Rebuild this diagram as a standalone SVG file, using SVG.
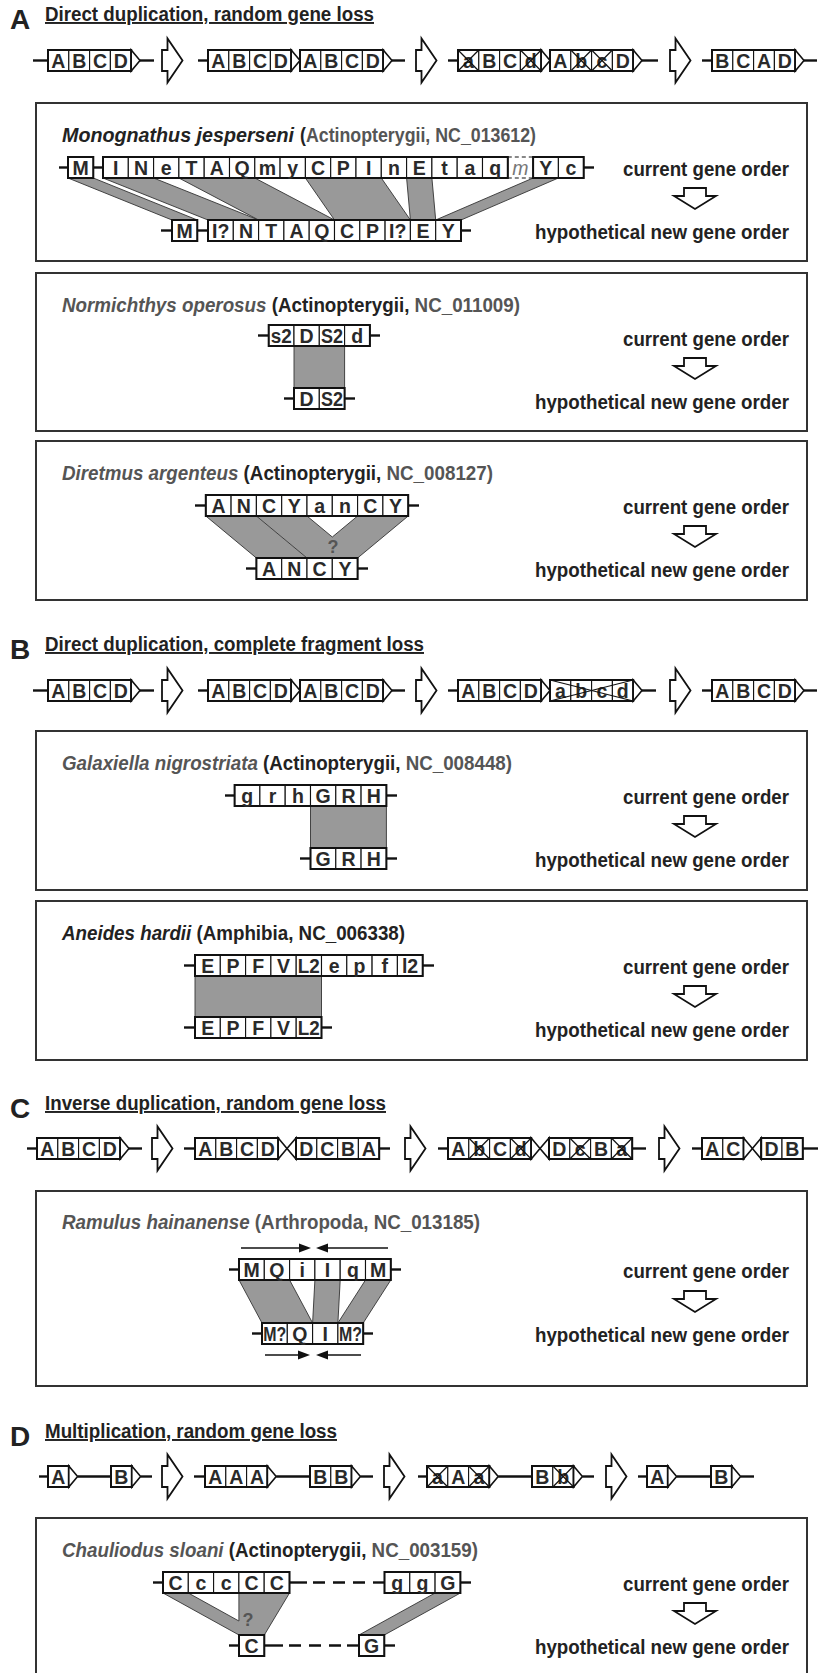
<svg xmlns="http://www.w3.org/2000/svg" xmlns:xlink="http://www.w3.org/1999/xlink" width="820" height="1673" viewBox="0 0 820 1673">
<defs>
<style>
.bg{fill:#fff}
.c{fill:#fff;stroke:#111;stroke-width:1.1}
.o{fill:none;stroke:#111;stroke-width:2}
.ln{stroke:#111;stroke-width:2.4;fill:none}
.dl{stroke:#111;stroke-width:2.4;fill:none;stroke-dasharray:12 8}
.tri{fill:#fff;stroke:#111;stroke-width:1.6;stroke-linejoin:miter}
.x{stroke:#111;stroke-width:1.2}
.g{font-family:"Liberation Sans",Arial,sans-serif;font-weight:bold;font-size:19.5px;fill:#2a2a2a;text-anchor:middle}
.gi{font-family:"Liberation Sans",Arial,sans-serif;font-style:italic;font-size:19.5px;fill:#777;text-anchor:middle}
.ba{fill:#fff;stroke:#111;stroke-width:1.8;stroke-linejoin:miter}
.box{fill:none;stroke:#333;stroke-width:2}
.lab{font-family:"Liberation Sans",Arial,sans-serif;font-weight:bold;font-size:28px;fill:#222}
.tt{font-family:"Liberation Sans",Arial,sans-serif;font-weight:bold;font-size:19.5px;fill:#222;text-decoration:underline}
.sp{font-family:"Liberation Sans",Arial,sans-serif;font-weight:bold;font-size:19.5px;fill:#222}
.gy{fill:#555}
.it{font-style:italic}
.ord{font-family:"Liberation Sans",Arial,sans-serif;font-weight:bold;font-size:19.5px;fill:#222;text-anchor:end}
.band{fill:#999;stroke:#333;stroke-width:0.9;stroke-linejoin:round}
.bf{fill:#999}
.be{stroke:#333;stroke-width:0.9}
.q{font-family:"Liberation Sans",Arial,sans-serif;font-weight:bold;font-size:18px;fill:#555;text-anchor:middle}
.ar{stroke:#111;stroke-width:1.5}
.ah{fill:#111}
</style>
<path id="barrow" class="ba" d="M0,-10.5 H5.5 V-22 L20.5,0 L5.5,22 V10.5 H0 Z"/>
<path id="darrow" class="ba" d="M-11,0 H11 V8 H21 L0,21 L-21,8 H-11 Z"/>
</defs>
<rect class="bg" x="0" y="0" width="820" height="1673"/>

<!-- ================= Section titles ================= -->
<g id="titles">
<text class="lab" x="10" y="29">A</text>
<text class="tt" x="45" y="21" textLength="329" lengthAdjust="spacingAndGlyphs">Direct duplication, random gene loss</text>
<text class="lab" x="10" y="659">B</text>
<text class="tt" x="45" y="651" textLength="379" lengthAdjust="spacingAndGlyphs">Direct duplication, complete fragment loss</text>
<text class="lab" x="10" y="1118">C</text>
<text class="tt" x="45" y="1110" textLength="341" lengthAdjust="spacingAndGlyphs">Inverse duplication, random gene loss</text>
<text class="lab" x="10" y="1446">D</text>
<text class="tt" x="45" y="1438" textLength="292" lengthAdjust="spacingAndGlyphs">Multiplication, random gene loss</text>
</g>

<!-- ================= Connectors (block arrows, homology bands) ================= -->
<g id="connectors">
<use xlink:href="#barrow" href="#barrow" transform="translate(162,60.5)"/>
<use xlink:href="#barrow" href="#barrow" transform="translate(416,60.5)"/>
<use xlink:href="#barrow" href="#barrow" transform="translate(670,60.5)"/>
<use xlink:href="#barrow" href="#barrow" transform="translate(162,690.5)"/>
<use xlink:href="#barrow" href="#barrow" transform="translate(416,690.5)"/>
<use xlink:href="#barrow" href="#barrow" transform="translate(670,690.5)"/>
<use xlink:href="#barrow" href="#barrow" transform="translate(152,1148.5)"/>
<use xlink:href="#barrow" href="#barrow" transform="translate(405,1148.5)"/>
<use xlink:href="#barrow" href="#barrow" transform="translate(659,1148.5)"/>
<use xlink:href="#barrow" href="#barrow" transform="translate(162,1476.5)"/>
<use xlink:href="#barrow" href="#barrow" transform="translate(384,1476.5)"/>
<use xlink:href="#barrow" href="#barrow" transform="translate(606,1476.5)"/>

<use xlink:href="#darrow" href="#darrow" transform="translate(695,188)"/>
<use xlink:href="#darrow" href="#darrow" transform="translate(695,358)"/>
<use xlink:href="#darrow" href="#darrow" transform="translate(695,526)"/>
<use xlink:href="#darrow" href="#darrow" transform="translate(695,816)"/>
<use xlink:href="#darrow" href="#darrow" transform="translate(695,986)"/>
<use xlink:href="#darrow" href="#darrow" transform="translate(695,1291)"/>
<use xlink:href="#darrow" href="#darrow" transform="translate(695,1603)"/>

<!-- Monognathus -->
<polygon class="band" points="68,178 93.3,178 197.3,220 172,220"/>
<polygon class="band" points="103,178 153.6,178 258.6,220 208,220"/>
<polygon class="band" points="178.9,178 254.8,178 334.5,220 258.6,220"/>
<polygon class="band" points="305.4,178 381.3,178 410.4,220 334.5,220"/>
<polygon class="band" points="406.6,178 431.9,178 435.7,220 410.4,220"/>
<polygon class="band" points="533.1,178 558.4,178 461,220 435.7,220"/>
<!-- Normichthys -->
<polygon class="band" points="294,346 344.6,346 344.6,388 294,388"/>
<!-- Diretmus -->
<polygon class="bf" points="205.8,516 256.4,516 307,558 256.4,558"/>
<polygon class="bf" points="256.4,516 307,516 357.6,558 307,558"/>
<polygon class="bf" points="357.6,516 408.2,516 357.6,558 307,558"/>
<line class="be" x1="205.8" y1="516" x2="256.4" y2="558"/>
<line class="be" x1="256.4" y1="516" x2="307" y2="558"/>
<line class="be" x1="307" y1="516" x2="332.3" y2="537"/>
<line class="be" x1="357.6" y1="516" x2="332.3" y2="537"/>
<line class="be" x1="408.2" y1="516" x2="357.6" y2="558"/>
<!-- Galaxiella -->
<polygon class="band" points="310.5,806 386.4,806 386.4,848 310.5,848"/>
<!-- Aneides -->
<polygon class="band" points="195,976 321.5,976 321.5,1017 195,1017"/>
<!-- Ramulus -->
<polygon class="band" points="239,1280 289.6,1280 312.6,1323 262,1323"/>
<polygon class="band" points="314.9,1280 340.2,1280 337.9,1323 312.6,1323"/>
<polygon class="band" points="365.5,1280 390.8,1280 363.2,1323 337.9,1323"/>
<!-- Chauliodus -->
<polygon class="bf" points="163,1593 188.3,1593 264.3,1635 239,1635"/>
<polygon class="bf" points="238.9,1593 289.5,1593 264.3,1635 239,1635"/>
<line class="be" x1="163" y1="1593" x2="239" y2="1635"/>
<line class="be" x1="188.3" y1="1593" x2="238.9" y2="1621"/>
<line class="be" x1="238.9" y1="1593" x2="238.9" y2="1621"/>
<line class="be" x1="289.5" y1="1593" x2="264.3" y2="1635"/>
<polygon class="band" points="435.1,1593 460.4,1593 384.3,1635 359,1635"/>
</g>

<!-- ================= Row A ================= -->
<g id="rowA">
<g id="A-g1">
<line class="ln" x1="33" y1="60.5" x2="48" y2="60.5"/>
<line class="ln" x1="140" y1="60.5" x2="154" y2="60.5"/>
<rect class="c" x="48" y="50" width="20.8" height="21"/><rect class="c" x="68.8" y="50" width="20.8" height="21"/><rect class="c" x="89.6" y="50" width="20.8" height="21"/><rect class="c" x="110.4" y="50" width="20.8" height="21"/>
<rect class="o" x="48" y="50" width="83.2" height="21"/>
<polygon class="tri" points="131.2,50 140,60.5 131.2,71"/>
<text class="g" x="58.4" y="67.5">A</text><text class="g" x="79.2" y="67.5">B</text><text class="g" x="100" y="67.5">C</text><text class="g" x="120.8" y="67.5">D</text>
</g>
<g id="A-g2">
<line class="ln" x1="198" y1="60.5" x2="208" y2="60.5"/>
<line class="ln" x1="392" y1="60.5" x2="405" y2="60.5"/>
<rect class="c" x="208" y="50" width="20.8" height="21"/><rect class="c" x="228.8" y="50" width="20.8" height="21"/><rect class="c" x="249.6" y="50" width="20.8" height="21"/><rect class="c" x="270.4" y="50" width="20.8" height="21"/>
<rect class="o" x="208" y="50" width="83.2" height="21"/>
<polygon class="tri" points="291.2,50 300,60.5 291.2,71"/>
<rect class="c" x="300" y="50" width="20.8" height="21"/><rect class="c" x="320.8" y="50" width="20.8" height="21"/><rect class="c" x="341.6" y="50" width="20.8" height="21"/><rect class="c" x="362.4" y="50" width="20.8" height="21"/>
<rect class="o" x="300" y="50" width="83.2" height="21"/>
<polygon class="tri" points="383.2,50 392,60.5 383.2,71"/>
<text class="g" x="218.4" y="67.5">A</text><text class="g" x="239.2" y="67.5">B</text><text class="g" x="260" y="67.5">C</text><text class="g" x="280.8" y="67.5">D</text>
<text class="g" x="310.4" y="67.5">A</text><text class="g" x="331.2" y="67.5">B</text><text class="g" x="352" y="67.5">C</text><text class="g" x="372.8" y="67.5">D</text>
</g>
<g id="A-g3">
<line class="ln" x1="448" y1="60.5" x2="458" y2="60.5"/>
<line class="ln" x1="642" y1="60.5" x2="658" y2="60.5"/>
<rect class="c" x="458" y="50" width="20.8" height="21"/><rect class="c" x="478.8" y="50" width="20.8" height="21"/><rect class="c" x="499.6" y="50" width="20.8" height="21"/><rect class="c" x="520.4" y="50" width="20.8" height="21"/>
<rect class="o" x="458" y="50" width="83.2" height="21"/>
<polygon class="tri" points="541.2,50 550,60.5 541.2,71"/>
<rect class="c" x="550" y="50" width="20.8" height="21"/><rect class="c" x="570.8" y="50" width="20.8" height="21"/><rect class="c" x="591.6" y="50" width="20.8" height="21"/><rect class="c" x="612.4" y="50" width="20.8" height="21"/>
<rect class="o" x="550" y="50" width="83.2" height="21"/>
<polygon class="tri" points="633.2,50 642,60.5 633.2,71"/>
<text class="g" x="468.4" y="67.5">a</text><text class="g" x="489.2" y="67.5">B</text><text class="g" x="510" y="67.5">C</text><text class="g" x="530.8" y="67.5">d</text>
<text class="g" x="560.4" y="67.5">A</text><text class="g" x="581.2" y="67.5">b</text><text class="g" x="602" y="67.5">c</text><text class="g" x="622.8" y="67.5">D</text>
<line class="x" x1="458" y1="50" x2="478.8" y2="71"/><line class="x" x1="478.8" y1="50" x2="458" y2="71"/>
<line class="x" x1="520.4" y1="50" x2="541.2" y2="71"/><line class="x" x1="541.2" y1="50" x2="520.4" y2="71"/>
<line class="x" x1="570.8" y1="50" x2="591.6" y2="71"/><line class="x" x1="591.6" y1="50" x2="570.8" y2="71"/>
<line class="x" x1="591.6" y1="50" x2="612.4" y2="71"/><line class="x" x1="612.4" y1="50" x2="591.6" y2="71"/>
</g>
<g id="A-g4">
<line class="ln" x1="702" y1="60.5" x2="712" y2="60.5"/>
<line class="ln" x1="804" y1="60.5" x2="817" y2="60.5"/>
<rect class="c" x="712" y="50" width="20.8" height="21"/><rect class="c" x="732.8" y="50" width="20.8" height="21"/><rect class="c" x="753.6" y="50" width="20.8" height="21"/><rect class="c" x="774.4" y="50" width="20.8" height="21"/>
<rect class="o" x="712" y="50" width="83.2" height="21"/>
<polygon class="tri" points="795.2,50 804,60.5 795.2,71"/>
<text class="g" x="722.4" y="67.5">B</text><text class="g" x="743.2" y="67.5">C</text><text class="g" x="764" y="67.5">A</text><text class="g" x="784.8" y="67.5">D</text>
</g>
</g>

<!-- Box A1 Monognathus -->
<g id="boxA1">
<rect class="box" x="36" y="103" width="771" height="158"/>
<text class="sp" x="62" y="142"><tspan class="it" textLength="232" lengthAdjust="spacingAndGlyphs">Monognathus jesperseni</tspan><tspan x="300" textLength="236" lengthAdjust="spacingAndGlyphs">(<tspan class="gy">Actinopterygii, NC_013612)</tspan></tspan></text>
<text class="ord" x="789" y="176" textLength="166" lengthAdjust="spacingAndGlyphs">current gene order</text>
<text class="ord" x="789" y="239" textLength="254" lengthAdjust="spacingAndGlyphs">hypothetical new gene order</text>
<line class="ln" x1="59" y1="167.5" x2="68" y2="167.5"/>
<line class="ln" x1="93.3" y1="167.5" x2="103" y2="167.5"/>
<line class="ln" x1="583.7" y1="167.5" x2="594" y2="167.5"/>
<rect class="c" x="68" y="157" width="25.3" height="21"/>
<rect class="o" x="68" y="157" width="25.3" height="21"/>
<rect class="c" x="103" y="157" width="25.3" height="21"/><rect class="c" x="128.3" y="157" width="25.3" height="21"/><rect class="c" x="153.6" y="157" width="25.3" height="21"/><rect class="c" x="178.9" y="157" width="25.3" height="21"/><rect class="c" x="204.2" y="157" width="25.3" height="21"/><rect class="c" x="229.5" y="157" width="25.3" height="21"/><rect class="c" x="254.8" y="157" width="25.3" height="21"/><rect class="c" x="280.1" y="157" width="25.3" height="21"/><rect class="c" x="305.4" y="157" width="25.3" height="21"/><rect class="c" x="330.7" y="157" width="25.3" height="21"/><rect class="c" x="356" y="157" width="25.3" height="21"/><rect class="c" x="381.3" y="157" width="25.3" height="21"/><rect class="c" x="406.6" y="157" width="25.3" height="21"/><rect class="c" x="431.9" y="157" width="25.3" height="21"/><rect class="c" x="457.2" y="157" width="25.3" height="21"/><rect class="c" x="482.5" y="157" width="25.3" height="21"/>
<rect class="c" x="533.1" y="157" width="25.3" height="21"/><rect class="c" x="558.4" y="157" width="25.3" height="21"/>
<rect class="o" x="103" y="157" width="404.8" height="21"/>
<rect class="o" x="533.1" y="157" width="50.6" height="21"/>
<line class="x" x1="507.8" y1="157" x2="533.1" y2="157" stroke-dasharray="4 3"/>
<line class="x" x1="507.8" y1="178" x2="533.1" y2="178" stroke-dasharray="4 3"/>
<text class="g" x="80.65" y="174.5">M</text>
<text class="g" x="115.65" y="174.5">I</text><text class="g" x="140.95" y="174.5">N</text><text class="g" x="166.25" y="174.5">e</text><text class="g" x="191.55" y="174.5">T</text><text class="g" x="216.85" y="174.5">A</text><text class="g" x="242.15" y="174.5">Q</text><text class="g" x="267.45" y="174.5">m</text><text class="g" x="292.75" y="174.5">y</text><text class="g" x="318.05" y="174.5">C</text><text class="g" x="343.35" y="174.5">P</text><text class="g" x="368.65" y="174.5">I</text><text class="g" x="393.95" y="174.5">n</text><text class="g" x="419.25" y="174.5">E</text><text class="g" x="444.55" y="174.5">t</text><text class="g" x="469.85" y="174.5">a</text><text class="g" x="495.15" y="174.5">q</text><text class="gi" x="520.45" y="174.5">m</text><text class="g" x="545.75" y="174.5">Y</text><text class="g" x="571.05" y="174.5">c</text>
<line class="ln" x1="161" y1="230.5" x2="172" y2="230.5"/>
<line class="ln" x1="197.3" y1="230.5" x2="208" y2="230.5"/>
<line class="ln" x1="461" y1="230.5" x2="471" y2="230.5"/>
<rect class="c" x="172" y="220" width="25.3" height="21"/>
<rect class="o" x="172" y="220" width="25.3" height="21"/>
<rect class="c" x="208" y="220" width="25.3" height="21"/><rect class="c" x="233.3" y="220" width="25.3" height="21"/><rect class="c" x="258.6" y="220" width="25.3" height="21"/><rect class="c" x="283.9" y="220" width="25.3" height="21"/><rect class="c" x="309.2" y="220" width="25.3" height="21"/><rect class="c" x="334.5" y="220" width="25.3" height="21"/><rect class="c" x="359.8" y="220" width="25.3" height="21"/><rect class="c" x="385.1" y="220" width="25.3" height="21"/><rect class="c" x="410.4" y="220" width="25.3" height="21"/><rect class="c" x="435.7" y="220" width="25.3" height="21"/>
<rect class="o" x="208" y="220" width="253" height="21"/>
<text class="g" x="184.65" y="237.5">M</text>
<text class="g" x="220.65" y="237.5">I?</text><text class="g" x="245.95" y="237.5">N</text><text class="g" x="271.25" y="237.5">T</text><text class="g" x="296.55" y="237.5">A</text><text class="g" x="321.85" y="237.5">Q</text><text class="g" x="347.15" y="237.5">C</text><text class="g" x="372.45" y="237.5">P</text><text class="g" x="397.75" y="237.5">I?</text><text class="g" x="423.05" y="237.5">E</text><text class="g" x="448.35" y="237.5">Y</text>
</g>

<!-- Box A2 Normichthys -->
<g id="boxA2">
<rect class="box" x="36" y="273" width="771" height="158"/>
<text class="sp" x="62" y="312" textLength="458" lengthAdjust="spacingAndGlyphs"><tspan class="it gy">Normichthys operosus</tspan> (Actinopterygii, <tspan class="gy">NC_011009)</tspan></text>
<text class="ord" x="789" y="346" textLength="166" lengthAdjust="spacingAndGlyphs">current gene order</text>
<text class="ord" x="789" y="409" textLength="254" lengthAdjust="spacingAndGlyphs">hypothetical new gene order</text>
<line class="ln" x1="258" y1="335.5" x2="268.7" y2="335.5"/>
<line class="ln" x1="369.9" y1="335.5" x2="380" y2="335.5"/>
<rect class="c" x="268.7" y="325" width="25.3" height="21"/><rect class="c" x="294" y="325" width="25.3" height="21"/><rect class="c" x="319.3" y="325" width="25.3" height="21"/><rect class="c" x="344.6" y="325" width="25.3" height="21"/>
<rect class="o" x="268.7" y="325" width="101.2" height="21"/>
<text class="g" x="281.35" y="342.5" textLength="21" lengthAdjust="spacingAndGlyphs">s2</text><text class="g" x="306.65" y="342.5">D</text><text class="g" x="331.95" y="342.5" textLength="22" lengthAdjust="spacingAndGlyphs">S2</text><text class="g" x="357.25" y="342.5">d</text>
<line class="ln" x1="284" y1="398.5" x2="294" y2="398.5"/>
<line class="ln" x1="344.6" y1="398.5" x2="355" y2="398.5"/>
<rect class="c" x="294" y="388" width="25.3" height="21"/><rect class="c" x="319.3" y="388" width="25.3" height="21"/>
<rect class="o" x="294" y="388" width="50.6" height="21"/>
<text class="g" x="306.65" y="405.5">D</text><text class="g" x="331.95" y="405.5" textLength="22" lengthAdjust="spacingAndGlyphs">S2</text>
</g>

<!-- Box A3 Diretmus -->
<g id="boxA3">
<rect class="box" x="36" y="441" width="771" height="159"/>
<text class="sp" x="62" y="480" textLength="431" lengthAdjust="spacingAndGlyphs"><tspan class="it gy">Diretmus argenteus</tspan> (Actinopterygii, <tspan class="gy">NC_008127)</tspan></text>
<text class="ord" x="789" y="514" textLength="166" lengthAdjust="spacingAndGlyphs">current gene order</text>
<text class="ord" x="789" y="577" textLength="254" lengthAdjust="spacingAndGlyphs">hypothetical new gene order</text>
<line class="ln" x1="195" y1="505.5" x2="205.8" y2="505.5"/>
<line class="ln" x1="408.2" y1="505.5" x2="419" y2="505.5"/>
<rect class="c" x="205.8" y="495" width="25.3" height="21"/><rect class="c" x="231.1" y="495" width="25.3" height="21"/><rect class="c" x="256.4" y="495" width="25.3" height="21"/><rect class="c" x="281.7" y="495" width="25.3" height="21"/><rect class="c" x="307" y="495" width="25.3" height="21"/><rect class="c" x="332.3" y="495" width="25.3" height="21"/><rect class="c" x="357.6" y="495" width="25.3" height="21"/><rect class="c" x="382.9" y="495" width="25.3" height="21"/>
<rect class="o" x="205.8" y="495" width="202.4" height="21"/>
<text class="g" x="218.45" y="512.5">A</text><text class="g" x="243.75" y="512.5">N</text><text class="g" x="269.05" y="512.5">C</text><text class="g" x="294.35" y="512.5">Y</text><text class="g" x="319.65" y="512.5">a</text><text class="g" x="344.95" y="512.5">n</text><text class="g" x="370.25" y="512.5">C</text><text class="g" x="395.55" y="512.5">Y</text>
<text class="q" x="333" y="553">?</text>
<line class="ln" x1="246" y1="568.5" x2="256.4" y2="568.5"/>
<line class="ln" x1="357.6" y1="568.5" x2="368" y2="568.5"/>
<rect class="c" x="256.4" y="558" width="25.3" height="21"/><rect class="c" x="281.7" y="558" width="25.3" height="21"/><rect class="c" x="307" y="558" width="25.3" height="21"/><rect class="c" x="332.3" y="558" width="25.3" height="21"/>
<rect class="o" x="256.4" y="558" width="101.2" height="21"/>
<text class="g" x="269.05" y="575.5">A</text><text class="g" x="294.35" y="575.5">N</text><text class="g" x="319.65" y="575.5">C</text><text class="g" x="344.95" y="575.5">Y</text>
</g>

<!-- ================= Row B ================= -->
<g id="rowB">
<g id="B-g1">
<line class="ln" x1="33" y1="690.5" x2="48" y2="690.5"/>
<line class="ln" x1="140" y1="690.5" x2="154" y2="690.5"/>
<rect class="c" x="48" y="680" width="20.8" height="21"/><rect class="c" x="68.8" y="680" width="20.8" height="21"/><rect class="c" x="89.6" y="680" width="20.8" height="21"/><rect class="c" x="110.4" y="680" width="20.8" height="21"/>
<rect class="o" x="48" y="680" width="83.2" height="21"/>
<polygon class="tri" points="131.2,680 140,690.5 131.2,701"/>
<text class="g" x="58.4" y="697.5">A</text><text class="g" x="79.2" y="697.5">B</text><text class="g" x="100" y="697.5">C</text><text class="g" x="120.8" y="697.5">D</text>
</g>
<g id="B-g2">
<line class="ln" x1="198" y1="690.5" x2="208" y2="690.5"/>
<line class="ln" x1="392" y1="690.5" x2="405" y2="690.5"/>
<rect class="c" x="208" y="680" width="20.8" height="21"/><rect class="c" x="228.8" y="680" width="20.8" height="21"/><rect class="c" x="249.6" y="680" width="20.8" height="21"/><rect class="c" x="270.4" y="680" width="20.8" height="21"/>
<rect class="o" x="208" y="680" width="83.2" height="21"/>
<polygon class="tri" points="291.2,680 300,690.5 291.2,701"/>
<rect class="c" x="300" y="680" width="20.8" height="21"/><rect class="c" x="320.8" y="680" width="20.8" height="21"/><rect class="c" x="341.6" y="680" width="20.8" height="21"/><rect class="c" x="362.4" y="680" width="20.8" height="21"/>
<rect class="o" x="300" y="680" width="83.2" height="21"/>
<polygon class="tri" points="383.2,680 392,690.5 383.2,701"/>
<text class="g" x="218.4" y="697.5">A</text><text class="g" x="239.2" y="697.5">B</text><text class="g" x="260" y="697.5">C</text><text class="g" x="280.8" y="697.5">D</text>
<text class="g" x="310.4" y="697.5">A</text><text class="g" x="331.2" y="697.5">B</text><text class="g" x="352" y="697.5">C</text><text class="g" x="372.8" y="697.5">D</text>
</g>
<g id="B-g3">
<line class="ln" x1="448" y1="690.5" x2="458" y2="690.5"/>
<line class="ln" x1="642" y1="690.5" x2="656" y2="690.5"/>
<rect class="c" x="458" y="680" width="20.8" height="21"/><rect class="c" x="478.8" y="680" width="20.8" height="21"/><rect class="c" x="499.6" y="680" width="20.8" height="21"/><rect class="c" x="520.4" y="680" width="20.8" height="21"/>
<rect class="o" x="458" y="680" width="83.2" height="21"/>
<polygon class="tri" points="541.2,680 550,690.5 541.2,701"/>
<rect class="c" x="550" y="680" width="20.8" height="21"/><rect class="c" x="570.8" y="680" width="20.8" height="21"/><rect class="c" x="591.6" y="680" width="20.8" height="21"/><rect class="c" x="612.4" y="680" width="20.8" height="21"/>
<rect class="o" x="550" y="680" width="83.2" height="21"/>
<polygon class="tri" points="633.2,680 642,690.5 633.2,701"/>
<text class="g" x="468.4" y="697.5">A</text><text class="g" x="489.2" y="697.5">B</text><text class="g" x="510" y="697.5">C</text><text class="g" x="530.8" y="697.5">D</text>
<text class="g" x="560.4" y="697.5">a</text><text class="g" x="581.2" y="697.5">b</text><text class="g" x="602" y="697.5">c</text><text class="g" x="622.8" y="697.5">d</text>
<line class="x" x1="550" y1="680" x2="633.2" y2="701"/><line class="x" x1="633.2" y1="680" x2="550" y2="701"/>
</g>
<g id="B-g4">
<line class="ln" x1="702" y1="690.5" x2="712" y2="690.5"/>
<line class="ln" x1="804" y1="690.5" x2="817" y2="690.5"/>
<rect class="c" x="712" y="680" width="20.8" height="21"/><rect class="c" x="732.8" y="680" width="20.8" height="21"/><rect class="c" x="753.6" y="680" width="20.8" height="21"/><rect class="c" x="774.4" y="680" width="20.8" height="21"/>
<rect class="o" x="712" y="680" width="83.2" height="21"/>
<polygon class="tri" points="795.2,680 804,690.5 795.2,701"/>
<text class="g" x="722.4" y="697.5">A</text><text class="g" x="743.2" y="697.5">B</text><text class="g" x="764" y="697.5">C</text><text class="g" x="784.8" y="697.5">D</text>
</g>
</g>

<!-- Box B1 Galaxiella -->
<g id="boxB1">
<rect class="box" x="36" y="731" width="771" height="159"/>
<text class="sp" x="62" y="770" textLength="450" lengthAdjust="spacingAndGlyphs"><tspan class="it gy">Galaxiella nigrostriata</tspan> (Actinopterygii, <tspan class="gy">NC_008448)</tspan></text>
<text class="ord" x="789" y="804" textLength="166" lengthAdjust="spacingAndGlyphs">current gene order</text>
<text class="ord" x="789" y="867" textLength="254" lengthAdjust="spacingAndGlyphs">hypothetical new gene order</text>
<line class="ln" x1="225" y1="795.5" x2="234.6" y2="795.5"/>
<line class="ln" x1="386.4" y1="795.5" x2="397" y2="795.5"/>
<rect class="c" x="234.6" y="785" width="25.3" height="21"/><rect class="c" x="259.9" y="785" width="25.3" height="21"/><rect class="c" x="285.2" y="785" width="25.3" height="21"/><rect class="c" x="310.5" y="785" width="25.3" height="21"/><rect class="c" x="335.8" y="785" width="25.3" height="21"/><rect class="c" x="361.1" y="785" width="25.3" height="21"/>
<rect class="o" x="234.6" y="785" width="151.8" height="21"/>
<text class="g" x="247.25" y="802.5">g</text><text class="g" x="272.55" y="802.5">r</text><text class="g" x="297.85" y="802.5">h</text><text class="g" x="323.15" y="802.5">G</text><text class="g" x="348.45" y="802.5">R</text><text class="g" x="373.75" y="802.5">H</text>
<line class="ln" x1="300" y1="858.5" x2="310.5" y2="858.5"/>
<line class="ln" x1="386.4" y1="858.5" x2="397" y2="858.5"/>
<rect class="c" x="310.5" y="848" width="25.3" height="21"/><rect class="c" x="335.8" y="848" width="25.3" height="21"/><rect class="c" x="361.1" y="848" width="25.3" height="21"/>
<rect class="o" x="310.5" y="848" width="75.9" height="21"/>
<text class="g" x="323.15" y="865.5">G</text><text class="g" x="348.45" y="865.5">R</text><text class="g" x="373.75" y="865.5">H</text>
</g>

<!-- Box B2 Aneides -->
<g id="boxB2">
<rect class="box" x="36" y="901" width="771" height="159"/>
<text class="sp" x="62" y="940" textLength="343" lengthAdjust="spacingAndGlyphs"><tspan class="it">Aneides hardii</tspan> (Amphibia, NC_006338)</text>
<text class="ord" x="789" y="974" textLength="166" lengthAdjust="spacingAndGlyphs">current gene order</text>
<text class="ord" x="789" y="1037" textLength="254" lengthAdjust="spacingAndGlyphs">hypothetical new gene order</text>
<line class="ln" x1="184" y1="965.5" x2="195" y2="965.5"/>
<line class="ln" x1="422.7" y1="965.5" x2="434" y2="965.5"/>
<rect class="c" x="195" y="955" width="25.3" height="21"/><rect class="c" x="220.3" y="955" width="25.3" height="21"/><rect class="c" x="245.6" y="955" width="25.3" height="21"/><rect class="c" x="270.9" y="955" width="25.3" height="21"/><rect class="c" x="296.2" y="955" width="25.3" height="21"/><rect class="c" x="321.5" y="955" width="25.3" height="21"/><rect class="c" x="346.8" y="955" width="25.3" height="21"/><rect class="c" x="372.1" y="955" width="25.3" height="21"/><rect class="c" x="397.4" y="955" width="25.3" height="21"/>
<rect class="o" x="195" y="955" width="227.7" height="21"/>
<text class="g" x="207.65" y="972.5">E</text><text class="g" x="232.95" y="972.5">P</text><text class="g" x="258.25" y="972.5">F</text><text class="g" x="283.55" y="972.5">V</text><text class="g" x="308.85" y="972.5" textLength="22" lengthAdjust="spacingAndGlyphs">L2</text><text class="g" x="334.15" y="972.5">e</text><text class="g" x="359.45" y="972.5">p</text><text class="g" x="384.75" y="972.5">f</text><text class="g" x="410.05" y="972.5">l2</text>
<line class="ln" x1="184" y1="1027.5" x2="195" y2="1027.5"/>
<line class="ln" x1="321.5" y1="1027.5" x2="332" y2="1027.5"/>
<rect class="c" x="195" y="1017" width="25.3" height="21"/><rect class="c" x="220.3" y="1017" width="25.3" height="21"/><rect class="c" x="245.6" y="1017" width="25.3" height="21"/><rect class="c" x="270.9" y="1017" width="25.3" height="21"/><rect class="c" x="296.2" y="1017" width="25.3" height="21"/>
<rect class="o" x="195" y="1017" width="126.5" height="21"/>
<text class="g" x="207.65" y="1034.5">E</text><text class="g" x="232.95" y="1034.5">P</text><text class="g" x="258.25" y="1034.5">F</text><text class="g" x="283.55" y="1034.5">V</text><text class="g" x="308.85" y="1034.5" textLength="22" lengthAdjust="spacingAndGlyphs">L2</text>
</g>

<!-- ================= Row C ================= -->
<g id="rowC">
<g id="C-g1">
<line class="ln" x1="27" y1="1148.5" x2="37" y2="1148.5"/>
<line class="ln" x1="129" y1="1148.5" x2="142" y2="1148.5"/>
<rect class="c" x="37" y="1138" width="20.8" height="21"/><rect class="c" x="57.8" y="1138" width="20.8" height="21"/><rect class="c" x="78.6" y="1138" width="20.8" height="21"/><rect class="c" x="99.4" y="1138" width="20.8" height="21"/>
<rect class="o" x="37" y="1138" width="83.2" height="21"/>
<polygon class="tri" points="120.2,1138 129,1148.5 120.2,1159"/>
<text class="g" x="47.4" y="1155.5">A</text><text class="g" x="68.2" y="1155.5">B</text><text class="g" x="89" y="1155.5">C</text><text class="g" x="109.8" y="1155.5">D</text>
</g>
<g id="C-g2">
<line class="ln" x1="184" y1="1148.5" x2="195" y2="1148.5"/>
<line class="ln" x1="379.2" y1="1148.5" x2="390" y2="1148.5"/>
<rect class="c" x="195" y="1138" width="20.8" height="21"/><rect class="c" x="215.8" y="1138" width="20.8" height="21"/><rect class="c" x="236.6" y="1138" width="20.8" height="21"/><rect class="c" x="257.4" y="1138" width="20.8" height="21"/>
<rect class="o" x="195" y="1138" width="83.2" height="21"/>
<polygon class="tri" points="278.2,1138 287,1148.5 278.2,1159"/>
<polygon class="tri" points="296,1138 287,1148.5 296,1159"/>
<rect class="c" x="296" y="1138" width="20.8" height="21"/><rect class="c" x="316.8" y="1138" width="20.8" height="21"/><rect class="c" x="337.6" y="1138" width="20.8" height="21"/><rect class="c" x="358.4" y="1138" width="20.8" height="21"/>
<rect class="o" x="296" y="1138" width="83.2" height="21"/>
<text class="g" x="205.4" y="1155.5">A</text><text class="g" x="226.2" y="1155.5">B</text><text class="g" x="247" y="1155.5">C</text><text class="g" x="267.8" y="1155.5">D</text>
<text class="g" x="306.4" y="1155.5">D</text><text class="g" x="327.2" y="1155.5">C</text><text class="g" x="348" y="1155.5">B</text><text class="g" x="368.8" y="1155.5">A</text>
</g>
<g id="C-g3">
<line class="ln" x1="438" y1="1148.5" x2="448" y2="1148.5"/>
<line class="ln" x1="632.2" y1="1148.5" x2="646" y2="1148.5"/>
<rect class="c" x="448" y="1138" width="20.8" height="21"/><rect class="c" x="468.8" y="1138" width="20.8" height="21"/><rect class="c" x="489.6" y="1138" width="20.8" height="21"/><rect class="c" x="510.4" y="1138" width="20.8" height="21"/>
<rect class="o" x="448" y="1138" width="83.2" height="21"/>
<polygon class="tri" points="531.2,1138 540,1148.5 531.2,1159"/>
<polygon class="tri" points="549,1138 540,1148.5 549,1159"/>
<rect class="c" x="549" y="1138" width="20.8" height="21"/><rect class="c" x="569.8" y="1138" width="20.8" height="21"/><rect class="c" x="590.6" y="1138" width="20.8" height="21"/><rect class="c" x="611.4" y="1138" width="20.8" height="21"/>
<rect class="o" x="549" y="1138" width="83.2" height="21"/>
<text class="g" x="458.4" y="1155.5">A</text><text class="g" x="479.2" y="1155.5">b</text><text class="g" x="500" y="1155.5">C</text><text class="g" x="520.8" y="1155.5">d</text>
<text class="g" x="559.4" y="1155.5">D</text><text class="g" x="580.2" y="1155.5">c</text><text class="g" x="601" y="1155.5">B</text><text class="g" x="621.8" y="1155.5">a</text>
<line class="x" x1="468.8" y1="1138" x2="489.6" y2="1159"/><line class="x" x1="489.6" y1="1138" x2="468.8" y2="1159"/>
<line class="x" x1="510.4" y1="1138" x2="531.2" y2="1159"/><line class="x" x1="531.2" y1="1138" x2="510.4" y2="1159"/>
<line class="x" x1="569.8" y1="1138" x2="590.6" y2="1159"/><line class="x" x1="590.6" y1="1138" x2="569.8" y2="1159"/>
<line class="x" x1="611.4" y1="1138" x2="632.2" y2="1159"/><line class="x" x1="632.2" y1="1138" x2="611.4" y2="1159"/>
</g>
<g id="C-g4">
<line class="ln" x1="692" y1="1148.5" x2="702" y2="1148.5"/>
<line class="ln" x1="802.8" y1="1148.5" x2="818" y2="1148.5"/>
<rect class="c" x="702" y="1138" width="20.8" height="21"/><rect class="c" x="722.8" y="1138" width="20.8" height="21"/>
<rect class="o" x="702" y="1138" width="41.6" height="21"/>
<polygon class="tri" points="743.6,1138 752.4,1148.5 743.6,1159"/>
<polygon class="tri" points="761.2,1138 752.4,1148.5 761.2,1159"/>
<rect class="c" x="761.2" y="1138" width="20.8" height="21"/><rect class="c" x="782" y="1138" width="20.8" height="21"/>
<rect class="o" x="761.2" y="1138" width="41.6" height="21"/>
<text class="g" x="712.4" y="1155.5">A</text><text class="g" x="733.2" y="1155.5">C</text>
<text class="g" x="771.6" y="1155.5">D</text><text class="g" x="792.4" y="1155.5">B</text>
</g>
</g>

<!-- Box C Ramulus -->
<g id="boxC">
<rect class="box" x="36" y="1191" width="771" height="195"/>
<text class="sp" x="62" y="1229" textLength="418" lengthAdjust="spacingAndGlyphs"><tspan class="it gy">Ramulus hainanense</tspan> <tspan class="gy">(Arthropoda, NC_013185)</tspan></text>
<text class="ord" x="789" y="1278" textLength="166" lengthAdjust="spacingAndGlyphs">current gene order</text>
<text class="ord" x="789" y="1342" textLength="254" lengthAdjust="spacingAndGlyphs">hypothetical new gene order</text>
<line class="ar" x1="241" y1="1248" x2="302" y2="1248"/><polygon class="ah" points="311,1248 299,1243.5 299,1252.5"/>
<line class="ar" x1="388" y1="1248" x2="326" y2="1248"/><polygon class="ah" points="316,1248 328,1243.5 328,1252.5"/>
<line class="ln" x1="229" y1="1269.5" x2="239" y2="1269.5"/>
<line class="ln" x1="390.8" y1="1269.5" x2="401" y2="1269.5"/>
<rect class="c" x="239" y="1259" width="25.3" height="21"/><rect class="c" x="264.3" y="1259" width="25.3" height="21"/><rect class="c" x="289.6" y="1259" width="25.3" height="21"/><rect class="c" x="314.9" y="1259" width="25.3" height="21"/><rect class="c" x="340.2" y="1259" width="25.3" height="21"/><rect class="c" x="365.5" y="1259" width="25.3" height="21"/>
<rect class="o" x="239" y="1259" width="151.8" height="21"/>
<text class="g" x="251.65" y="1276.5">M</text><text class="g" x="276.95" y="1276.5">Q</text><text class="g" x="302.25" y="1276.5">i</text><text class="g" x="327.55" y="1276.5">I</text><text class="g" x="352.85" y="1276.5">q</text><text class="g" x="378.15" y="1276.5">M</text>
<line class="ln" x1="252" y1="1333.5" x2="262" y2="1333.5"/>
<line class="ln" x1="363.2" y1="1333.5" x2="373" y2="1333.5"/>
<rect class="c" x="262" y="1323" width="25.3" height="21"/><rect class="c" x="287.3" y="1323" width="25.3" height="21"/><rect class="c" x="312.6" y="1323" width="25.3" height="21"/><rect class="c" x="337.9" y="1323" width="25.3" height="21"/>
<rect class="o" x="262" y="1323" width="101.2" height="21"/>
<text class="g" x="274.65" y="1340.5" textLength="23" lengthAdjust="spacingAndGlyphs">M?</text><text class="g" x="299.95" y="1340.5">Q</text><text class="g" x="325.25" y="1340.5">I</text><text class="g" x="350.55" y="1340.5" textLength="23" lengthAdjust="spacingAndGlyphs">M?</text>
<line class="ar" x1="265" y1="1355" x2="301" y2="1355"/><polygon class="ah" points="310,1355 298,1350.5 298,1359.5"/>
<line class="ar" x1="361" y1="1355" x2="326" y2="1355"/><polygon class="ah" points="316,1355 328,1350.5 328,1359.5"/>
</g>

<!-- ================= Row D ================= -->
<g id="rowD">
<g id="D-g1">
<line class="ln" x1="39" y1="1476.5" x2="48" y2="1476.5"/>
<line class="ln" x1="77.6" y1="1476.5" x2="111" y2="1476.5"/>
<line class="ln" x1="140.6" y1="1476.5" x2="152" y2="1476.5"/>
<rect class="c" x="48" y="1466" width="20.8" height="21"/><rect class="o" x="48" y="1466" width="20.8" height="21"/>
<polygon class="tri" points="68.8,1466 77.6,1476.5 68.8,1487"/>
<rect class="c" x="111" y="1466" width="20.8" height="21"/><rect class="o" x="111" y="1466" width="20.8" height="21"/>
<polygon class="tri" points="131.8,1466 140.6,1476.5 131.8,1487"/>
<text class="g" x="58.4" y="1483.5">A</text><text class="g" x="121.4" y="1483.5">B</text>
</g>
<g id="D-g2">
<line class="ln" x1="194" y1="1476.5" x2="205" y2="1476.5"/>
<line class="ln" x1="276.2" y1="1476.5" x2="310" y2="1476.5"/>
<line class="ln" x1="360.4" y1="1476.5" x2="373" y2="1476.5"/>
<rect class="c" x="205" y="1466" width="20.8" height="21"/><rect class="c" x="225.8" y="1466" width="20.8" height="21"/><rect class="c" x="246.6" y="1466" width="20.8" height="21"/>
<rect class="o" x="205" y="1466" width="62.4" height="21"/>
<polygon class="tri" points="267.4,1466 276.2,1476.5 267.4,1487"/>
<rect class="c" x="310" y="1466" width="20.8" height="21"/><rect class="c" x="330.8" y="1466" width="20.8" height="21"/>
<rect class="o" x="310" y="1466" width="41.6" height="21"/>
<polygon class="tri" points="351.6,1466 360.4,1476.5 351.6,1487"/>
<text class="g" x="215.4" y="1483.5">A</text><text class="g" x="236.2" y="1483.5">A</text><text class="g" x="257" y="1483.5">A</text>
<text class="g" x="320.4" y="1483.5">B</text><text class="g" x="341.2" y="1483.5">B</text>
</g>
<g id="D-g3">
<line class="ln" x1="418" y1="1476.5" x2="427" y2="1476.5"/>
<line class="ln" x1="498.2" y1="1476.5" x2="532" y2="1476.5"/>
<line class="ln" x1="582.4" y1="1476.5" x2="594" y2="1476.5"/>
<rect class="c" x="427" y="1466" width="20.8" height="21"/><rect class="c" x="447.8" y="1466" width="20.8" height="21"/><rect class="c" x="468.6" y="1466" width="20.8" height="21"/>
<rect class="o" x="427" y="1466" width="62.4" height="21"/>
<polygon class="tri" points="489.4,1466 498.2,1476.5 489.4,1487"/>
<rect class="c" x="532" y="1466" width="20.8" height="21"/><rect class="c" x="552.8" y="1466" width="20.8" height="21"/>
<rect class="o" x="532" y="1466" width="41.6" height="21"/>
<polygon class="tri" points="573.6,1466 582.4,1476.5 573.6,1487"/>
<text class="g" x="437.4" y="1483.5">a</text><text class="g" x="458.2" y="1483.5">A</text><text class="g" x="479" y="1483.5">a</text>
<text class="g" x="542.4" y="1483.5">B</text><text class="g" x="563.2" y="1483.5">b</text>
<line class="x" x1="427" y1="1466" x2="447.8" y2="1487"/><line class="x" x1="447.8" y1="1466" x2="427" y2="1487"/>
<line class="x" x1="468.6" y1="1466" x2="489.4" y2="1487"/><line class="x" x1="489.4" y1="1466" x2="468.6" y2="1487"/>
<line class="x" x1="552.8" y1="1466" x2="573.6" y2="1487"/><line class="x" x1="573.6" y1="1466" x2="552.8" y2="1487"/>
</g>
<g id="D-g4">
<line class="ln" x1="638" y1="1476.5" x2="647" y2="1476.5"/>
<line class="ln" x1="676.6" y1="1476.5" x2="711" y2="1476.5"/>
<line class="ln" x1="740.6" y1="1476.5" x2="754" y2="1476.5"/>
<rect class="c" x="647" y="1466" width="20.8" height="21"/><rect class="o" x="647" y="1466" width="20.8" height="21"/>
<polygon class="tri" points="667.8,1466 676.6,1476.5 667.8,1487"/>
<rect class="c" x="711" y="1466" width="20.8" height="21"/><rect class="o" x="711" y="1466" width="20.8" height="21"/>
<polygon class="tri" points="731.8,1466 740.6,1476.5 731.8,1487"/>
<text class="g" x="657.4" y="1483.5">A</text><text class="g" x="721.4" y="1483.5">B</text>
</g>
</g>

<!-- Box D Chauliodus -->
<g id="boxD">
<rect class="box" x="36" y="1518" width="771" height="170"/>
<text class="sp" x="62" y="1557" textLength="416" lengthAdjust="spacingAndGlyphs"><tspan class="it gy">Chauliodus sloani</tspan> (Actinopterygii, <tspan class="gy">NC_003159)</tspan></text>
<text class="ord" x="789" y="1591" textLength="166" lengthAdjust="spacingAndGlyphs">current gene order</text>
<text class="ord" x="789" y="1654" textLength="254" lengthAdjust="spacingAndGlyphs">hypothetical new gene order</text>
<line class="ln" x1="153" y1="1582.5" x2="163" y2="1582.5"/>
<line class="ln" x1="289.5" y1="1582.5" x2="307" y2="1582.5"/>
<line class="dl" x1="313" y1="1582.5" x2="365" y2="1582.5"/>
<line class="ln" x1="373" y1="1582.5" x2="384.5" y2="1582.5"/>
<line class="ln" x1="460.4" y1="1582.5" x2="471" y2="1582.5"/>
<rect class="c" x="163" y="1572" width="25.3" height="21"/><rect class="c" x="188.3" y="1572" width="25.3" height="21"/><rect class="c" x="213.6" y="1572" width="25.3" height="21"/><rect class="c" x="238.9" y="1572" width="25.3" height="21"/><rect class="c" x="264.2" y="1572" width="25.3" height="21"/>
<rect class="o" x="163" y="1572" width="126.5" height="21"/>
<rect class="c" x="384.5" y="1572" width="25.3" height="21"/><rect class="c" x="409.8" y="1572" width="25.3" height="21"/><rect class="c" x="435.1" y="1572" width="25.3" height="21"/>
<rect class="o" x="384.5" y="1572" width="75.9" height="21"/>
<text class="g" x="175.65" y="1589.5">C</text><text class="g" x="200.95" y="1589.5">c</text><text class="g" x="226.25" y="1589.5">c</text><text class="g" x="251.55" y="1589.5">C</text><text class="g" x="276.85" y="1589.5">C</text>
<text class="g" x="397.15" y="1589.5">g</text><text class="g" x="422.45" y="1589.5">g</text><text class="g" x="447.75" y="1589.5">G</text>
<text class="q" x="248" y="1626">?</text>
<line class="ln" x1="229" y1="1645.5" x2="239" y2="1645.5"/>
<line class="ln" x1="264.3" y1="1645.5" x2="283" y2="1645.5"/>
<line class="dl" x1="289" y1="1645.5" x2="341" y2="1645.5"/>
<line class="ln" x1="347" y1="1645.5" x2="359" y2="1645.5"/>
<line class="ln" x1="384.3" y1="1645.5" x2="395" y2="1645.5"/>
<rect class="c" x="239" y="1635" width="25.3" height="21"/><rect class="o" x="239" y="1635" width="25.3" height="21"/>
<rect class="c" x="359" y="1635" width="25.3" height="21"/><rect class="o" x="359" y="1635" width="25.3" height="21"/>
<text class="g" x="251.65" y="1652.5">C</text><text class="g" x="371.65" y="1652.5">G</text>
</g>
</svg>
